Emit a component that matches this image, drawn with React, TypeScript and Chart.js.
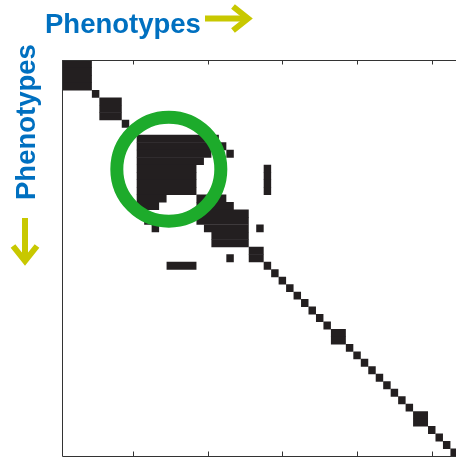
import React, { useEffect, useRef } from "react";
import { Chart, registerables } from "chart.js";

Chart.register(...registerables);

// ---- data ----
const N = 53;
const rowLabels: string[] = Array.from({ length: N }, (_, i) => String(i + 1));

// each entry is one horizontal run of filled cells: row, first column, last column
const runRow = [
  1, 2, 3, 4, 5, 6, 7, 8, 9, 10,
  11, 12, 12, 13, 13, 14, 15, 15, 16, 16, 17, 17, 18, 18,
  19, 19, 20, 20, 21, 21, 22, 22, 23, 23, 23, 24, 25, 26, 27, 27, 28, 28,
  29, 30, 31, 32, 33, 34, 35, 36, 37, 38, 39, 40, 41, 42, 43, 44, 45, 46, 47, 48, 49, 50, 51, 52, 53,
];
const runFrom = [
  1, 1, 1, 1, 5, 6, 6, 6, 9, 10,
  11, 11, 22, 11, 23, 11, 11, 28, 11, 28, 11, 28, 11, 28,
  11, 19, 11, 19, 11, 19, 12, 19, 13, 20, 27, 21, 21, 26, 23, 26, 15, 28,
  29, 30, 31, 32, 33, 34, 35, 36, 37, 37, 39, 40, 41, 42, 43, 44, 45, 46, 47, 48, 48, 50, 51, 52, 53,
];
const runTo = [
  4, 4, 4, 4, 5, 8, 8, 8, 9, 10,
  21, 20, 22, 20, 23, 19, 18, 28, 18, 28, 18, 28, 18, 28,
  14, 22, 13, 23, 11, 25, 12, 25, 13, 25, 27, 25, 25, 27, 23, 27, 18, 28,
  29, 30, 31, 32, 33, 34, 35, 36, 38, 38, 39, 40, 41, 42, 43, 44, 45, 46, 47, 49, 49, 50, 51, 52, 53,
];

const xTickValues = [10, 20, 30, 40, 50];

// highlighted cluster (green ring), in matrix coordinates
const ringX = [14.8];
const ringY = [15.08];

const axisTitle = "Phenotypes";

// ---- styles ----
const CELL_COLOR = "#231F20";
const RING_COLOR = "#1DAB2B";
const TEXT_COLOR = "#0070C0";
const ARROW_COLOR = "#C8C800";
const FONT = 'bold 27.5px "Liberation Sans", Arial, sans-serif';

function drawArrow(ctx: CanvasRenderingContext2D, x1: number, y1: number, x2: number, y2: number) {
  const ang = Math.atan2(y2 - y1, x2 - x1);
  const c = Math.cos(ang);
  const s = Math.sin(ang);
  const hl = 15;
  const hw = 12;
  ctx.beginPath();
  ctx.moveTo(x1, y1);
  ctx.lineTo(x2 - c * 3, y2 - s * 3);
  ctx.stroke();
  ctx.beginPath();
  ctx.moveTo(x2 - hl * c + hw * s, y2 - hl * s - hw * c);
  ctx.lineTo(x2, y2);
  ctx.lineTo(x2 - hl * c - hw * s, y2 - hl * s + hw * c);
  ctx.stroke();
}

const decorPlugin = {
  id: "decor",
  afterDraw(chart: any) {
    const { ctx, chartArea } = chart;
    const { left, top, right, bottom } = chartArea;
    const xs = chart.scales.x;
    ctx.save();
    // frame
    ctx.strokeStyle = "#333333";
    ctx.lineWidth = 1;
    const lx = Math.floor(left) + 0.5;
    const ty = Math.floor(top) + 0.5;
    const by = Math.floor(bottom) + 0.5;
    ctx.beginPath();
    ctx.moveTo(right + 2, ty);
    ctx.lineTo(lx, ty);
    ctx.lineTo(lx, by);
    ctx.lineTo(right + 2, by);
    ctx.stroke();
    // inward ticks
    ctx.beginPath();
    xTickValues.forEach((v) => {
      const px = Math.round(xs.getPixelForValue(v)) + 0.5;
      ctx.moveTo(px, by);
      ctx.lineTo(px, by - 5);
      ctx.moveTo(px, ty);
      ctx.lineTo(px, ty + 4);
    });
    ctx.stroke();

    // titles
    ctx.fillStyle = TEXT_COLOR;
    ctx.font = FONT;
    ctx.textAlign = "left";
    ctx.textBaseline = "alphabetic";
    ctx.fillText(axisTitle, 45, 33);
    ctx.save();
    ctx.translate(35, 200);
    ctx.rotate(-Math.PI / 2);
    ctx.fillText(axisTitle, 0, 0);
    ctx.restore();

    // arrows
    ctx.strokeStyle = ARROW_COLOR;
    ctx.lineWidth = 6;
    ctx.lineJoin = "miter";
    ctx.lineCap = "butt";
    drawArrow(ctx, 205, 18.5, 248, 18.5);
    drawArrow(ctx, 25, 218, 25, 261);
    ctx.restore();
  },
};

export default function App() {
  const ref = useRef<HTMLCanvasElement | null>(null);

  useEffect(() => {
    if (!ref.current) return;

    const slots: any[][] = [];
    const count: Record<number, number> = {};
    runRow.forEach((r, i) => {
      const k = count[r] ?? 0;
      count[r] = k + 1;
      if (!slots[k]) slots[k] = new Array(N).fill(null);
      slots[k][r - 1] = [runFrom[i] - 0.5, runTo[i] + 0.5];
    });

    const barSets = slots.map((data) => ({
      type: "bar" as const,
      data,
      indexAxis: "y" as const,
      xAxisID: "x",
      yAxisID: "y",
      backgroundColor: CELL_COLOR,
      borderWidth: 0,
      barPercentage: 1.06,
      categoryPercentage: 1,
      grouped: false,
      order: 1,
    }));

    const ringSet = {
      type: "scatter" as const,
      data: ringX.map((x, i) => ({ x, y: ringY[i] })),
      indexAxis: "x" as const,
      xAxisID: "x",
      yAxisID: "yc",
      showLine: false,
      pointStyle: "circle",
      pointRadius: 52,
      pointHoverRadius: 52,
      pointBorderWidth: 13,
      borderColor: RING_COLOR,
      pointBorderColor: RING_COLOR,
      backgroundColor: "rgba(0,0,0,0)",
      pointBackgroundColor: "rgba(0,0,0,0)",
      clip: false,
      order: 0,
    };

    const chart = new Chart(ref.current, {
      type: "bar",
      data: {
        labels: rowLabels,
        datasets: [ringSet as any, ...barSets],
      },
      options: {
        animation: false,
        responsive: false,
        devicePixelRatio: 1,
        indexAxis: "y",
        events: [],
        layout: {
          autoPadding: false,
          padding: { left: 62, top: 60.3, right: 470 - 457.9, bottom: 470 - 456.2 },
        },
        plugins: {
          legend: { display: false },
          tooltip: { enabled: false },
          title: { display: false },
        },
        scales: {
          x: { type: "linear", min: 0.5, max: N + 0.5, offset: false, display: false },
          y: { type: "category", labels: rowLabels, offset: true, display: false },
          yc: { type: "linear", min: 0.5, max: N + 0.5, reverse: true, offset: false, display: false },
        },
      } as any,
      plugins: [decorPlugin],
    });

    return () => chart.destroy();
  }, []);

  return (
    <div
      style={{
        position: "fixed",
        left: 0,
        top: 0,
        width: 456,
        height: 458,
        overflow: "hidden",
        background: "#ffffff",
      }}
    >
      <canvas ref={ref} width={470} height={470} style={{ display: "block" }} />
    </div>
  );
}
